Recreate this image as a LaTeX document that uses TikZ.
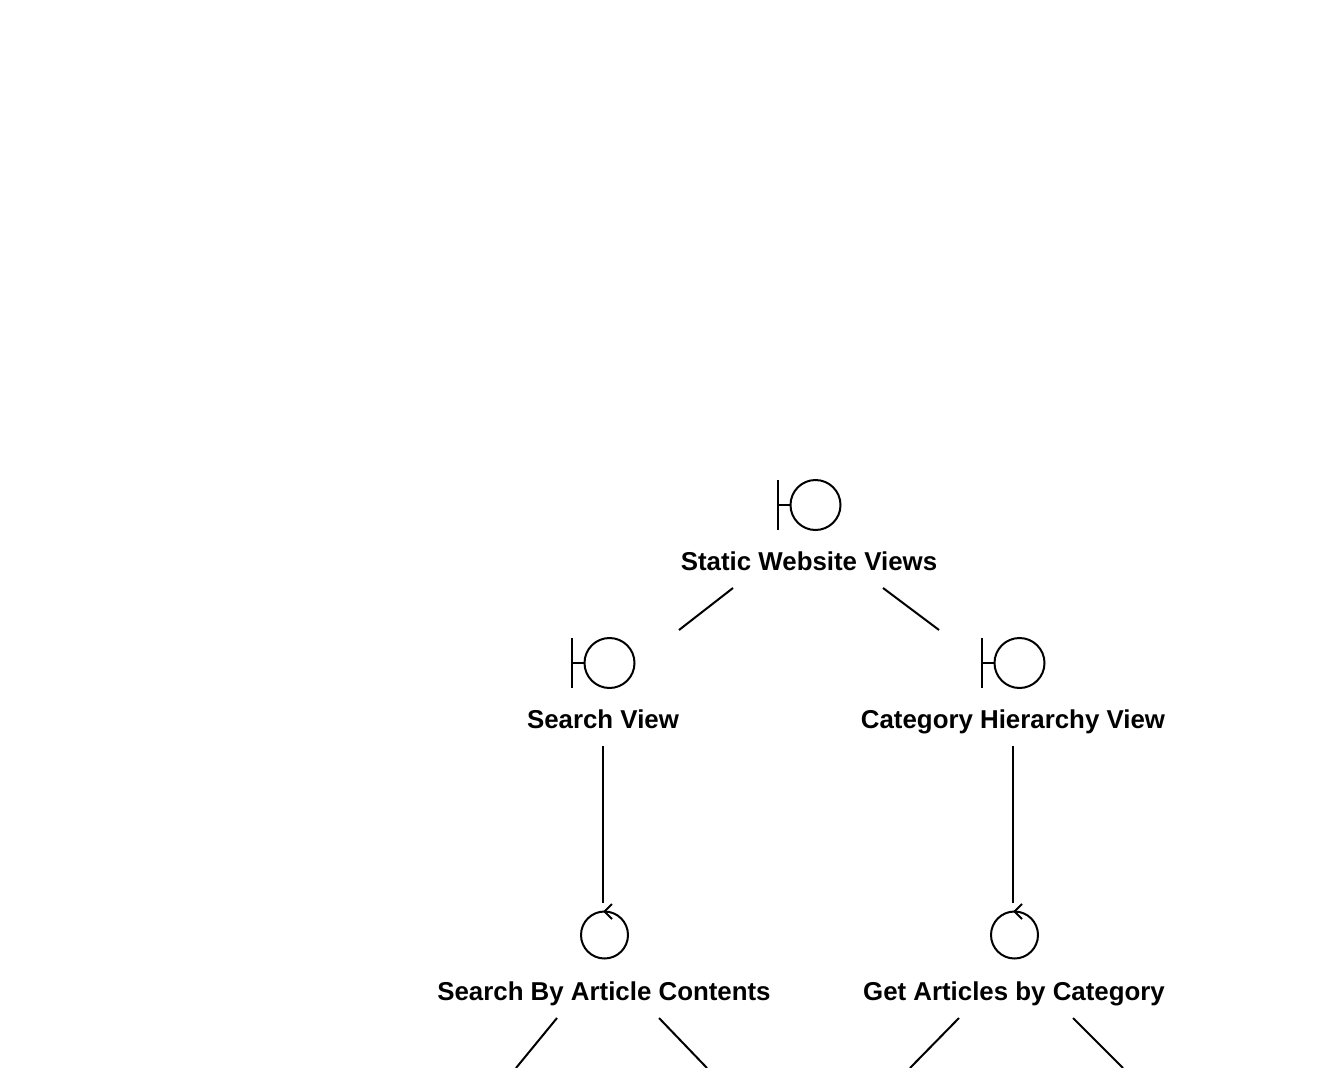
\documentclass[tikz,border=0pt]{standalone}
\usepackage{fontspec}
\setmainfont{Liberation Sans}
\tikzset{
  px/.style={x=1pt,y=-1pt},
  ink/.style={draw=black,line width=2pt},
  label/.style={inner sep=0pt,anchor=base,font=\fontsize{25.85}{30}\selectfont\bfseries},
  bcircle/.style={circle,draw=black,line width=2pt,minimum size=50pt,inner sep=0pt},
  ccircle/.style={circle,draw=black,line width=2pt,minimum size=47pt,inner sep=0pt}
}
\newcommand{\boundaryicon}[3]{%
  \node[bcircle] (#1) at (#2,#3) {};
  \coordinate (#1bar) at (#2-37.5,#3);
  \draw[ink] (#2-37.5,#3-25) -- (#2-37.5,#3+25);
  \draw[ink] (#1bar) -- (#1.west);
}
\newcommand{\controlicon}[3]{%
  \node[ccircle] (#1) at (#2,#3) {};
  \coordinate (#1tip) at (#2,#3-23.5);
  \draw[ink] (#2+7.5,#3-31) -- (#1tip) -- (#2+7.5,#3-16);
}
\begin{document}
\begin{tikzpicture}[px]
\useasboundingbox (0,0) rectangle (1326,1068);
\clip (0,0) rectangle (1326,1068);
\boundaryicon{staticIcon}{815.5}{505}
\boundaryicon{searchIcon}{609.5}{663}
\boundaryicon{categoryIcon}{1019.5}{663}
\controlicon{articleIcon}{604.5}{935}
\controlicon{getIcon}{1014.5}{935}
\node[label] (staticLabel) at (809,570) {Static Website Views};
\node[label] (searchLabel) at (603,728) {Search View};
\node[label] (categoryLabel) at (1013,728) {Category Hierarchy View};
\node[label] (articleLabel) at (604,1000) {Search By Article Contents};
\node[label] (getLabel) at (1014,1000) {Get Articles by Category};
\coordinate (staticL) at (733,588);
\coordinate (staticR) at (883,588);
\coordinate (searchTop) at (679,630);
\coordinate (categoryTop) at (939,630);
\coordinate (searchBottom) at (603,746);
\coordinate (categoryBottom) at (1013,746);
\coordinate (articleTop) at (603,903);
\coordinate (getTop) at (1013,903);
\coordinate (articleL) at (557,1018);
\coordinate (articleR) at (659,1018);
\coordinate (getL) at (959,1018);
\coordinate (getR) at (1073,1018);
\coordinate (articleLEnd) at (516,1068);
\coordinate (articleREnd) at (707,1068);
\coordinate (getLEnd) at (910,1068);
\coordinate (getREnd) at (1123,1068);
\draw[ink] (staticL) -- (searchTop);
\draw[ink] (staticR) -- (categoryTop);
\draw[ink] (searchBottom) -- (articleTop);
\draw[ink] (categoryBottom) -- (getTop);
\draw[ink] (articleL) -- (articleLEnd);
\draw[ink] (articleR) -- (articleREnd);
\draw[ink] (getL) -- (getLEnd);
\draw[ink] (getR) -- (getREnd);
\end{tikzpicture}
\end{document}
